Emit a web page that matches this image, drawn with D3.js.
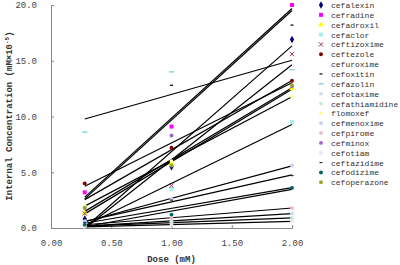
<!DOCTYPE html>
<html><head><meta charset="utf-8">
<script src="https://cdn.jsdelivr.net/npm/d3@7"></script>
<style>body{margin:0;background:#fff}svg{display:block}</style>
</head><body>
<script>
const doses = [0.28, 1.0, 2.0];
const drugs = ["cefalexin","cefradine","cefadroxil","cefaclor","ceftizoxime","ceftezole","cefuroxime","cefoxitin","cefazolin","cefotaxime","cefathiamidine","flomoxef","cefmenoxime","cefpirome","cefminox","cefotiam","ceftazidime","cefodizime","cefoperazone"];
const concLow  = [0.8, 3.2, 1.35, 0.5, 1.3, 4.0, 0.4, 0.8, 8.6, 0.2, 0.15, 2.0, 0.6, 0.3, 1.8, 0.1, 0.5, 0.3, 1.8];
const concMid  = [5.5, 9.1, 5.8, 3.5, 3.8, 7.2, 1.8, 12.8, 14.0, 0.6, 0.5, 6.0, 2.6, 0.9, 8.3, 0.3, 2.5, 1.2, 5.6];
const concHigh = [16.9, 20.0, 12.5, 9.5, 15.6, 13.2, 3.6, 18.2, 14.2, 1.3, 0.9, 11.8, 5.6, 1.8, 12.7, 0.6, 4.7, 3.6, 12.8];
const xTicks = [0, 0.5, 1.0, 1.5, 2.0];
const yTicks = [0, 5, 10, 15, 20];

const colors = ["#000080","#ff00ff","#ffff00","#a8f0f0","#993366","#800000","#3399cc","#000000","#66cccc","#cce0f5","#c8ecd8","#ffff99","#ccccff","#f5b8d0","#9966cc","#e6e6f5","#333333","#006666","#99aa22"];
const shapes = ["diamond","square","triangle","square","x","circle","plus","dash","longdash","circle","circle","circle","circle","circle","circle","circle","dash","circle","circle"];

const W = 400, H = 265;
const svg = d3.select("body").append("svg").attr("width", W).attr("height", H);
const x = d3.scaleLinear().domain([0, 2]).range([51, 292]);
const y = d3.scaleLinear().domain([0, 20]).range([228, 5]);

const font = "'Liberation Mono', monospace";
const axisColor = "#888";

// axes
const gx = svg.append("g").attr("transform", "translate(0,228)")
  .call(d3.axisBottom(x).tickValues(xTicks).tickSize(-3).tickPadding(12).tickFormat(d3.format(".2f")));
const gy = svg.append("g").attr("transform", "translate(51,0)")
  .call(d3.axisLeft(y).tickValues(yTicks).tickSize(-3).tickPadding(14).tickFormat(d3.format(".1f")));
[gx, gy].forEach(g => {
  g.select(".domain").attr("stroke", axisColor);
  g.selectAll(".tick line").attr("stroke", axisColor);
  g.selectAll(".tick text").attr("font-family", font).attr("font-size", 9).attr("fill", "#444");
});

// regression lines
const series = drugs.map((name, i) => ({name, vals: [concLow[i], concMid[i], concHigh[i]], color: colors[i], shape: shapes[i]}));
function fit(vals) {
  const mx = d3.mean(doses), my = d3.mean(vals);
  let sxy = 0, sxx = 0;
  doses.forEach((d, k) => { sxy += (d - mx) * (vals[k] - my); sxx += (d - mx) * (d - mx); });
  const b = sxy / sxx, a = my - b * mx;
  return [a, b];
}
const gl = svg.append("g");
series.forEach(s => {
  const [a, b] = fit(s.vals);
  const x0 = doses[0], x1 = doses[doses.length - 1];
  gl.append("line")
    .attr("x1", x(x0)).attr("y1", y(a + b * x0))
    .attr("x2", x(x1)).attr("y2", y(a + b * x1))
    .attr("stroke", "#000").attr("stroke-width", 1.2);
});

function drawMarker(g, shape, color, cx, cy) {
  if (shape === "dash" || shape === "longdash") {
    const hw = shape === "dash" ? 1.5 : 2.5;
    g.append("line").attr("x1", cx - hw).attr("x2", cx + hw).attr("y1", cy).attr("y2", cy)
      .attr("stroke", color).attr("stroke-width", 1.2);
    return;
  }
  const map = {diamond: d3.symbolDiamond, square: d3.symbolSquare, triangle: d3.symbolTriangle, circle: d3.symbolCircle, x: d3.symbolX, plus: d3.symbolPlus};
  const sizes = {diamond: 16, square: 16, triangle: 14, circle: 12, x: 14, plus: 14};
  const p = d3.symbol().type(map[shape]).size(sizes[shape])();
  const path = g.append("path").attr("d", p).attr("transform", `translate(${cx},${cy})`);
  if (shape === "x") path.attr("fill", "none").attr("stroke", color).attr("stroke-width", 1);
  else path.attr("fill", color);
}

// points
const gp = svg.append("g");
series.forEach(s => {
  s.vals.forEach((v, k) => drawMarker(gp, s.shape, s.color, x(doses[k]), y(v)));
});

// legend
const lg = svg.append("g");
series.forEach((s, i) => {
  const ly = 5 + i * 9.85;
  drawMarker(lg, s.shape, s.color, 321, ly);
  lg.append("text").attr("x", 331).attr("y", ly + 3).text(s.name)
    .attr("font-family", font).attr("font-size", 8).attr("fill", "#333");
});

// axis titles
svg.append("text").attr("x", x(1)).attr("y", 262).attr("text-anchor", "middle")
  .attr("font-family", font).attr("font-weight", "bold").attr("font-size", 9).attr("fill", "#333")
  .text("Dose (mM)");
const yt = svg.append("text").attr("transform", "translate(12,116) rotate(-90)").attr("text-anchor", "middle")
  .attr("font-family", font).attr("font-weight", "bold").attr("font-size", 9).attr("fill", "#333");
yt.append("tspan").text("Internal Concentration (mM×10");
yt.append("tspan").attr("baseline-shift", "super").attr("font-size", 6).text("-5");
yt.append("tspan").text(")");
</script>
</body></html>
